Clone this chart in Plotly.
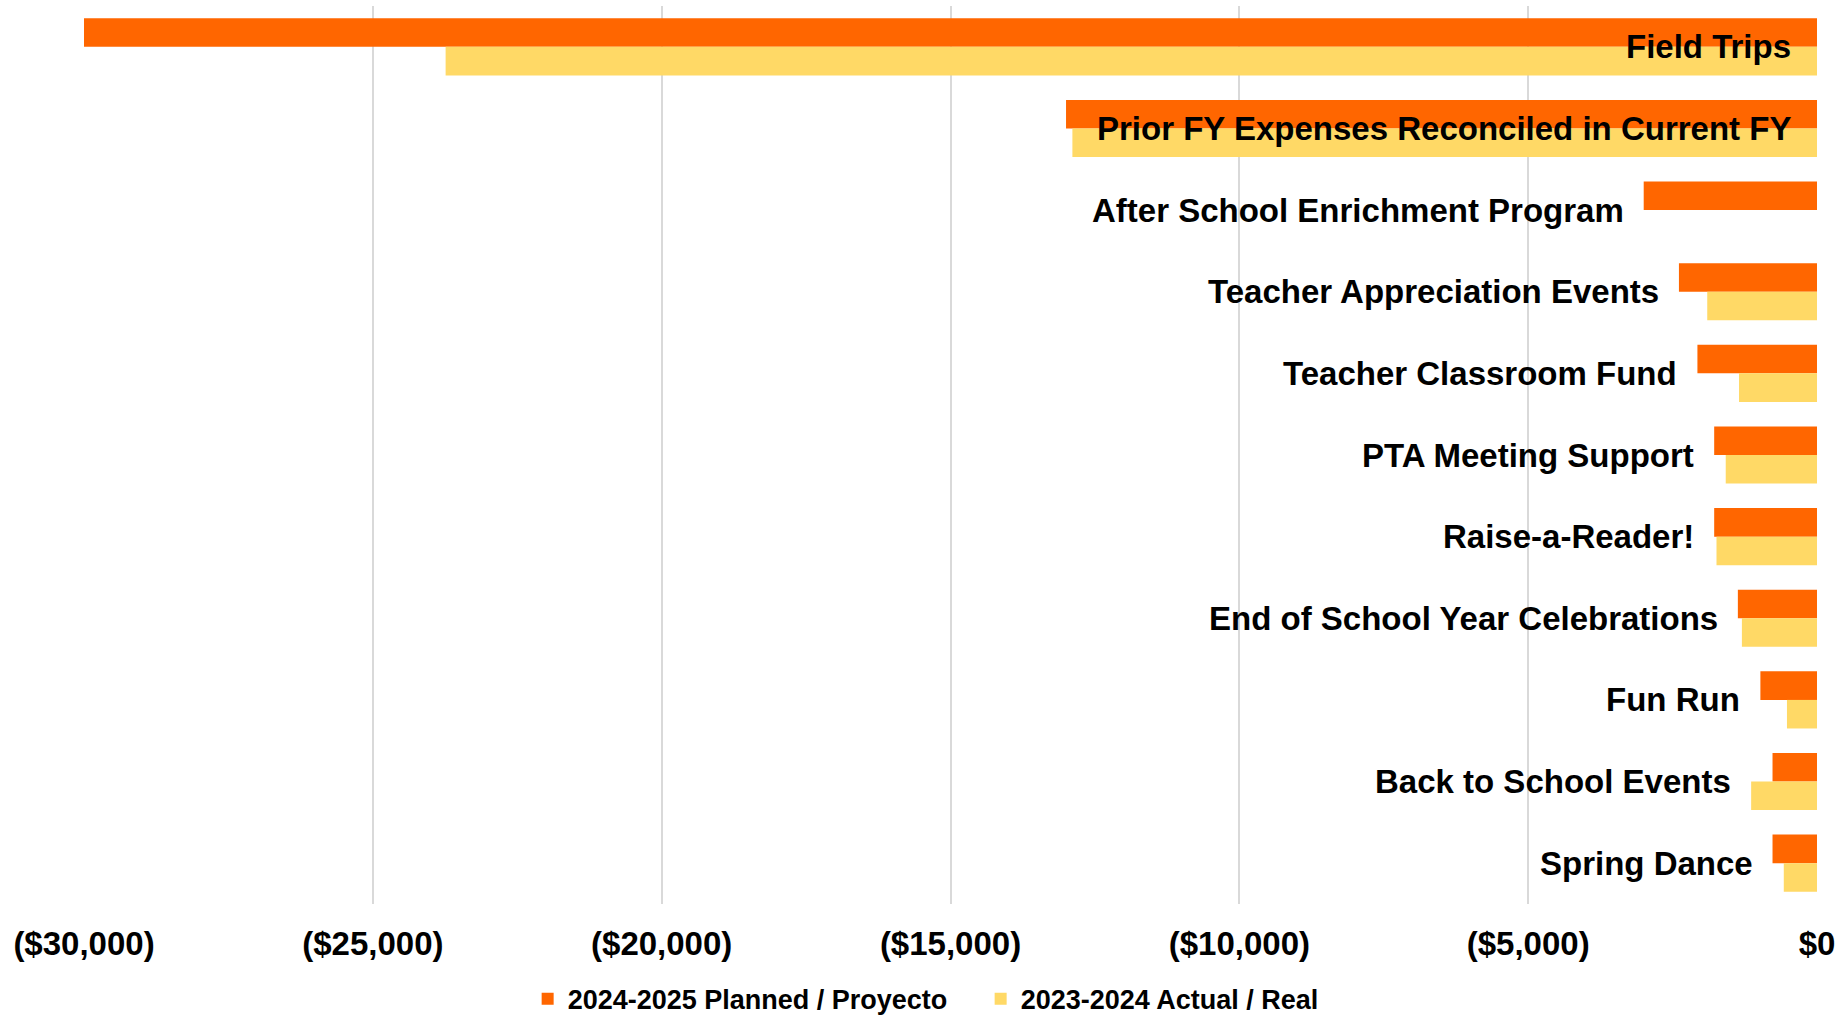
import plotly.graph_objects as go

categories = [
    "Field Trips",
    "Prior FY Expenses Reconciled in Current FY",
    "After School Enrichment Program",
    "Teacher Appreciation Events",
    "Teacher Classroom Fund",
    "PTA Meeting Support",
    "Raise-a-Reader!",
    "End of School Year Celebrations",
    "Fun Run",
    "Back to School Events",
    "Spring Dance",
]
planned_2024_2025 = [-30000, -13000, -3000, -2390, -2070, -1780, -1780, -1370, -980, -770, -770]
actual_2023_2024 = [-23740, -12890, 0, -1900, -1350, -1580, -1740, -1300, -520, -1140, -575]

tick_values = [-30000, -25000, -20000, -15000, -10000, -5000, 0]
tick_labels = ["($30,000)", "($25,000)", "($20,000)", "($15,000)", "($10,000)", "($5,000)", "$0"]

series_names = ["2024-2025 Planned / Proyecto", "2023-2024 Actual / Real"]
ORANGE = "#FF6600"
YELLOW = "#FFD966"
FONT = "Liberation Sans, Arial, sans-serif"

fig = go.Figure()
fig.add_trace(go.Bar(
    y=categories, x=planned_2024_2025, orientation="h",
    name=series_names[0], marker=dict(color=ORANGE, line=dict(width=0)),
    hoverinfo="skip",
))
fig.add_trace(go.Bar(
    y=categories, x=actual_2023_2024, orientation="h",
    name=series_names[1], marker=dict(color=YELLOW, line=dict(width=0)),
    hoverinfo="skip",
))

# category labels next to the bars
for cat, p, a in zip(categories, planned_2024_2025, actual_2023_2024):
    anchor = min(p, a)
    if anchor < -10000:
        x, shift = 0, -24
    else:
        x, shift = anchor, -18
    fig.add_annotation(
        x=x, y=cat, xref="x", yref="y", text=cat, showarrow=False,
        xanchor="right", yanchor="middle", xshift=shift,
        font=dict(family=FONT, size=33, color="black", weight="bold"),
    )

fig.update_layout(
    width=1837, height=1019,
    margin=dict(l=84, r=20, t=6, b=115, autoexpand=False),
    paper_bgcolor="white", plot_bgcolor="white",
    barmode="group", bargap=0.30, bargroupgap=0,
    showlegend=True,
    legend=dict(
        orientation="h", x=0.256, xanchor="left", y=-0.106, yanchor="middle",
        xref="paper", yref="paper",
        font=dict(family=FONT, size=27, color="black", weight="bold"),
        entrywidth=408, entrywidthmode="pixels",
        bgcolor="rgba(0,0,0,0)",
    ),
    font=dict(family=FONT),
)
fig.update_xaxes(
    range=[-30000, 0], tickvals=tick_values, ticktext=tick_labels,
    showgrid=True, gridcolor="#D9D9D9", gridwidth=2,
    zeroline=False, showline=False, ticks="", ticklabelstandoff=17,
    automargin=False,
    tickfont=dict(family=FONT, size=33, color="black", weight="bold"),
)
fig.update_yaxes(
    autorange="reversed", showticklabels=False, showgrid=False,
    zeroline=False, showline=False, ticks="", automargin=False,
)

fig.write_html(
    "out.html",
    config={"displayModeBar": False},
    post_script="document.body.style.margin='0';document.body.style.overflow='hidden';",
)
